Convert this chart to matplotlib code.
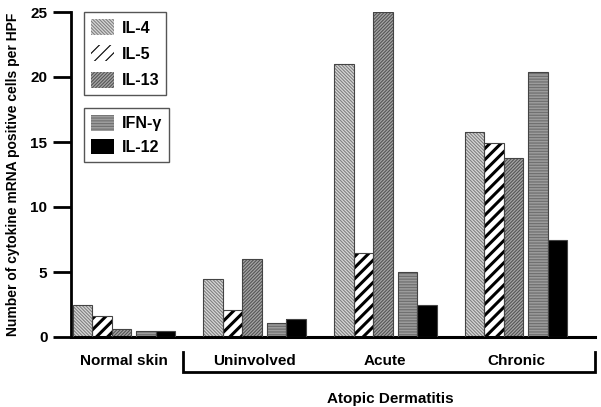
import matplotlib
matplotlib.use('Agg')
import matplotlib.pyplot as plt
import matplotlib.transforms as mtransforms
from matplotlib.patches import Patch
import numpy as np

plt.rcParams['font.family'] = ['Liberation Sans', 'DejaVu Sans']
plt.rcParams['font.weight'] = 'bold'
plt.rcParams['hatch.linewidth'] = 0.8

# data
groups = ['Normal skin', 'Uninvolved', 'Acute', 'Chronic']
il4 = [2.5, 4.5, 21.0, 15.8]
il5 = [1.6, 2.1, 6.5, 14.9]
il13 = [0.6, 6.0, 25.0, 13.8]
ifng = [0.5, 1.1, 5.0, 20.4]
il12 = [0.5, 1.4, 2.5, 7.5]

# name, values, fill, hatch colour, hatch, hatch line width
series = [
    ('IL-4', il4, '#d8d8d8', '#808080', '\\' * 10, 0.8),
    ('IL-5', il5, 'white', 'black', '///', 2.2),
    ('IL-13', il13, '#a6a6a6', '#555555', '/' * 10, 0.8),
    ('IFN-γ', ifng, '#9c9c9c', '#707070', '-' * 6, 0.9),
    ('IL-12', il12, 'black', 'black', '', 0.8),
]

fig = plt.figure(figsize=(6.01, 4.07), dpi=100)
ax = fig.add_axes([71 / 601, 70 / 407, 524 / 601, 325 / 407])

x = np.arange(len(groups))
w = 0.149
gap = 0.038
left = x - (5 * w + gap) / 2

handles = []
for i, (name, vals, fc, hc, hatch, hlw) in enumerate(series):
    pos = left + i * w + (gap if i >= 3 else 0)
    with plt.rc_context({'hatch.linewidth': hlw}):
        ax.bar(pos, vals, width=w, align='edge', color=fc, edgecolor=hc,
               hatch=hatch, linewidth=0, zorder=2)
        handles.append(Patch(facecolor=fc, edgecolor=hc, hatch=hatch,
                             linewidth=0, label=name))
    ax.bar(pos, vals, width=w, align='edge', fill=False,
           edgecolor='#444444', linewidth=0.8, zorder=3)

ax.set_ylim(0, 25)
ax.set_xlim(-0.405, 3.604)
ax.set_yticks([0, 5, 10, 15, 20, 25])
ax.tick_params(axis='y', direction='out', length=13, width=2, pad=4,
               labelsize=11)
ax.set_xticks(x)
ax.set_xticklabels(groups, fontsize=11, fontweight='bold')
ax.tick_params(axis='x', length=0, pad=12)

for s in ['top', 'right']:
    ax.spines[s].set_visible(False)
ax.spines['left'].set_linewidth(2)
ax.spines['bottom'].set_linewidth(2.2)

ax.set_ylabel('Number of cytokine mRNA positive cells per HPF',
              fontsize=10, fontweight='bold')
ax.yaxis.set_label_coords(-0.098, 0.5)

# bracket under the atopic dermatitis groups
trans = mtransforms.blended_transform_factory(ax.transData, ax.transAxes)
bx0 = 0.451
bx1 = 3.604
ax.plot([bx0, bx0, bx1, bx1], [-0.047, -0.108, -0.108, -0.047],
        color='black', lw=2, transform=trans, clip_on=False,
        solid_joinstyle='miter')
ax.text(2.035, -0.19, 'Atopic Dermatitis', transform=trans,
        ha='center', va='center', fontsize=11, fontweight='bold')

leg_kw = dict(loc='upper left', borderaxespad=0, fancybox=False,
              edgecolor='#555555', framealpha=1, fontsize=11.5,
              handlelength=1.45, handleheight=1.15, handletextpad=0.45,
              borderpad=0.45)
leg1 = ax.legend(handles=handles[:3], bbox_to_anchor=(0.025, 1.0),
                 labelspacing=0.62, **leg_kw)
leg1.get_frame().set_linewidth(1)
ax.add_artist(leg1)
leg2 = ax.legend(handles=handles[3:], bbox_to_anchor=(0.025, 0.705),
                 labelspacing=0.45, **leg_kw)
leg2.get_frame().set_linewidth(1)

fig.savefig('out.png', dpi=100)
